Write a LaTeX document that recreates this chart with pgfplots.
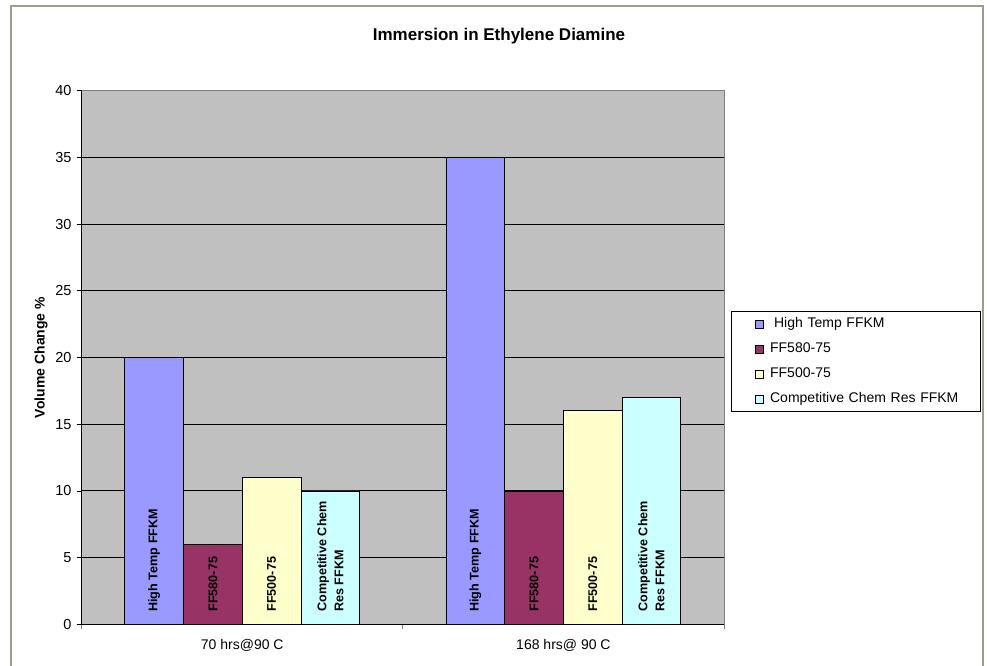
\documentclass[border=0pt]{standalone}
\usepackage{fontspec}
\setmainfont{Liberation Sans}
\usepackage{pgfplots}
\pgfplotsset{compat=1.18}

\definecolor{hightemp}{HTML}{9999FF}
\definecolor{ffeight}{HTML}{993366}
\definecolor{fffive}{HTML}{FFFFCC}
\definecolor{compet}{HTML}{CCFFFF}
\definecolor{plotbg}{HTML}{C0C0C0}
\definecolor{framecol}{HTML}{A09A8C}

\pgfplotsset{
  barlabel/.style={
    draw=none, fill=none, forget plot,
    every node near coord/.append style={
      rotate=90, anchor=west, text=black, align=left,
      font=\bfseries\fontsize{12.6}{17}\selectfont,
      inner xsep=12.5pt, inner ysep=0pt},
  },
}

\begin{document}
\begin{tikzpicture}
\useasboundingbox (0,0) rectangle (987pt,665pt);
\draw[framecol, line width=1.5pt] (11pt,659pt) rectangle (983pt,-10pt);
\begin{axis}[
  at={(81.7pt,40.7pt)}, anchor=south west,
  scale only axis, width=642.3pt, height=533.6pt,
  xmin=-0.5, xmax=1.5, ymin=0, ymax=40,
  ybar, bar width=58.7pt,
  clip=false,
  axis x line*=bottom, axis y line*=left,
  axis line style={black, line width=0.9pt},
  axis background/.style={fill=plotbg, draw=gray, line width=1pt},
  tick align=outside, major tick length=5pt,
  tick style={black, line width=0.8pt},
  /pgf/number format/assume math mode=true,
  ytick={0,5,...,35}, extra y ticks={40},
  extra y tick style={grid=none},
  ymajorgrids, grid style={black, line width=0.9pt},
  yticklabel style={font=\fontsize{14.5}{16}\selectfont, inner sep=0pt, xshift=-5pt},
  xtick={-0.5,0.5,1.5}, xticklabels={,,},
  x tick style={gray},
  extra x ticks={0,1},
  extra x tick labels={70 hrs@90 C, 168 hrs@ 90 C},
  extra x tick style={major tick length=0pt, grid=none,
    xticklabel style={font=\fontsize{14}{16}\selectfont, anchor=center, yshift=-21.4pt}},
  ylabel={Volume Change \%},
  ylabel style={at={(axis description cs:-0.0634,0.5)}, anchor=center,
    font=\bfseries\fontsize{14}{16}\selectfont},
  title={Immersion in Ethylene Diamine},
  title style={at={(axis description cs:0.6497,1.0918)}, anchor=center,
    font=\bfseries\fontsize{17}{20}\selectfont},
  legend style={at={(axis description cs:1.0114,0.587)}, anchor=north west,
    draw=black, line width=0.8pt, fill=white,
    inner xsep=0pt, inner ysep=6pt, row sep=12pt, column sep=6pt,
    font=\fontsize{14}{16}\selectfont,
    nodes={inner sep=0pt, text height=10pt, text depth=3pt, text width=210pt, align=left}},
  legend cell align=left,
  legend image code/.code={
    \path[draw=none, fill=none] (-24pt,0pt) rectangle (8pt,0pt);
    \draw[#1, line width=0.8pt] (0pt,-4pt) rectangle (8pt,4pt);},
]
\addplot[fill=hightemp, draw=black, line width=0.8pt, bar shift=-88.05pt]
  coordinates {(0,20) (1,35)};
\addplot[fill=ffeight, draw=black, line width=0.8pt, bar shift=-29.35pt]
  coordinates {(0,6) (1,10)};
\addplot[fill=fffive, draw=black, line width=0.8pt, bar shift=29.35pt]
  coordinates {(0,11) (1,16)};
\addplot[fill=compet, draw=black, line width=0.8pt, bar shift=88.05pt]
  coordinates {(0,10) (1,17)};
\legend{\hspace*{4pt}High Temp FFKM, FF580-75, FF500-75, Competitive Chem Res FFKM}

\addplot[barlabel, bar shift=-88.05pt, nodes near coords={High Temp FFKM}]
  coordinates {(0,0) (1,0)};
\addplot[barlabel, bar shift=-29.35pt, nodes near coords={FF580-75}]
  coordinates {(0,0) (1,0)};
\addplot[barlabel, bar shift=29.35pt, nodes near coords={FF500-75}]
  coordinates {(0,0) (1,0)};
\addplot[barlabel, bar shift=88.05pt, nodes near coords={Competitive Chem\\Res FFKM}]
  coordinates {(0,0) (1,0)};
\end{axis}
\end{tikzpicture}
\end{document}
